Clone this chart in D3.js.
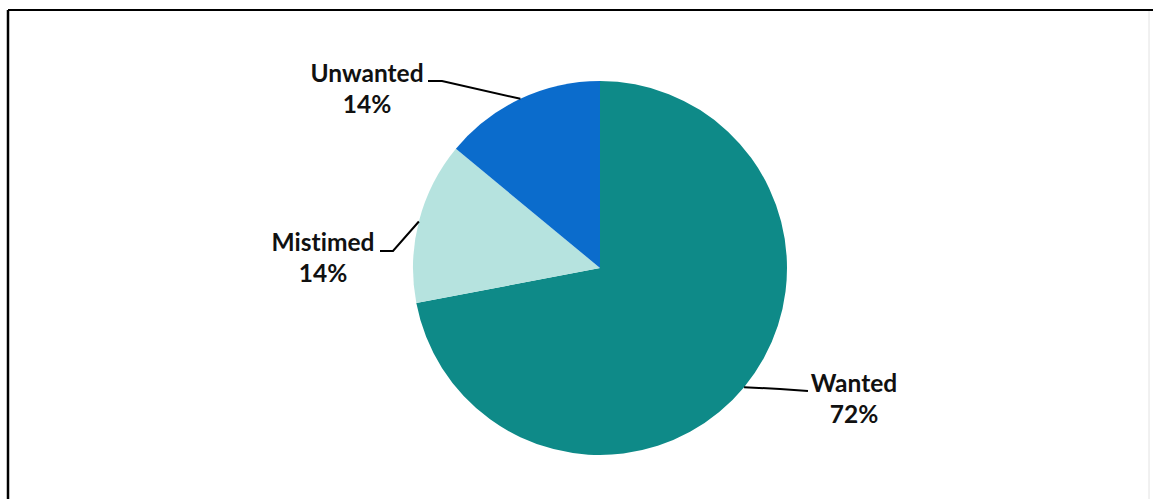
<!DOCTYPE html>
<html><head><meta charset="utf-8">
<script src="https://cdn.jsdelivr.net/npm/d3@7"></script>
<style>html,body{margin:0;padding:0;background:#fff;}svg{display:block;}text{font-variant-ligatures:none;}</style>
</head><body>
<svg id="chart" width="1153" height="499"></svg>
<script>
const categories = ["Wanted", "Mistimed", "Unwanted"];
const values = [72, 14, 14];
const colors = ["#0e8a88", "#b6e3df", "#0b6ccc"];

const svg = d3.select("#chart");
const W = 1153, H = 499;
svg.append("rect").attr("width", W).attr("height", H).attr("fill", "#fff");
// frame
svg.append("line").attr("x1", 8).attr("x2", W).attr("y1", 10).attr("y2", 10).attr("stroke", "#000").attr("stroke-width", 2);
svg.append("line").attr("x1", 8).attr("x2", 8).attr("y1", 10).attr("y2", H).attr("stroke", "#000").attr("stroke-width", 2.5);
svg.append("line").attr("x1", 1149).attr("x2", 1149).attr("y1", 11).attr("y2", H).attr("stroke", "#e2e2e2").attr("stroke-width", 1);

const cx = 600, cy = 268, r = 187;
const data = categories.map((c, i) => ({ cat: c, val: values[i], color: colors[i] }));
const pie = d3.pie().value(d => d.val).sort(null).startAngle(0).endAngle(2 * Math.PI);
const arcs = pie(data);
const arc = d3.arc().innerRadius(0).outerRadius(r);
const g = svg.append("g").attr("transform", `translate(${cx},${cy})`);
g.selectAll("path").data(arcs).enter().append("path")
  .attr("d", arc).attr("fill", d => d.data.color);

// label layout (positions are layout, not data)
const layout = {
  "Wanted":   { tx: 854, ty: 392, elbow: [780, 389], end: [808, 391] },
  "Mistimed": { tx: 323, ty: 251, elbow: [393, 251], end: [380, 251] },
  "Unwanted": { tx: 367, ty: 82,  elbow: [442, 81],  end: [428, 81] }
};
const fmt = v => Math.round(v / d3.sum(values) * 100) + "%";
arcs.forEach(a => {
  const L = layout[a.data.cat];
  const mid = (a.startAngle + a.endAngle) / 2;
  const px = cx + r * Math.sin(mid), py = cy - r * Math.cos(mid);
  svg.append("polyline")
    .attr("points", [[px, py], L.elbow, L.end].map(p => p.join(",")).join(" "))
    .attr("fill", "none").attr("stroke", "#000").attr("stroke-width", 2);
  const t = svg.append("text").attr("text-anchor", "middle")
    .attr("font-family", "Lato, 'Open Sans', sans-serif").attr("font-weight", "bold")
    .attr("font-size", 24.5).attr("fill", "#111");
  t.append("tspan").attr("x", L.tx).attr("y", L.ty).text(a.data.cat);
  t.append("tspan").attr("x", L.tx).attr("y", L.ty + 31).text(fmt(a.data.val));
});
</script>
</body></html>
